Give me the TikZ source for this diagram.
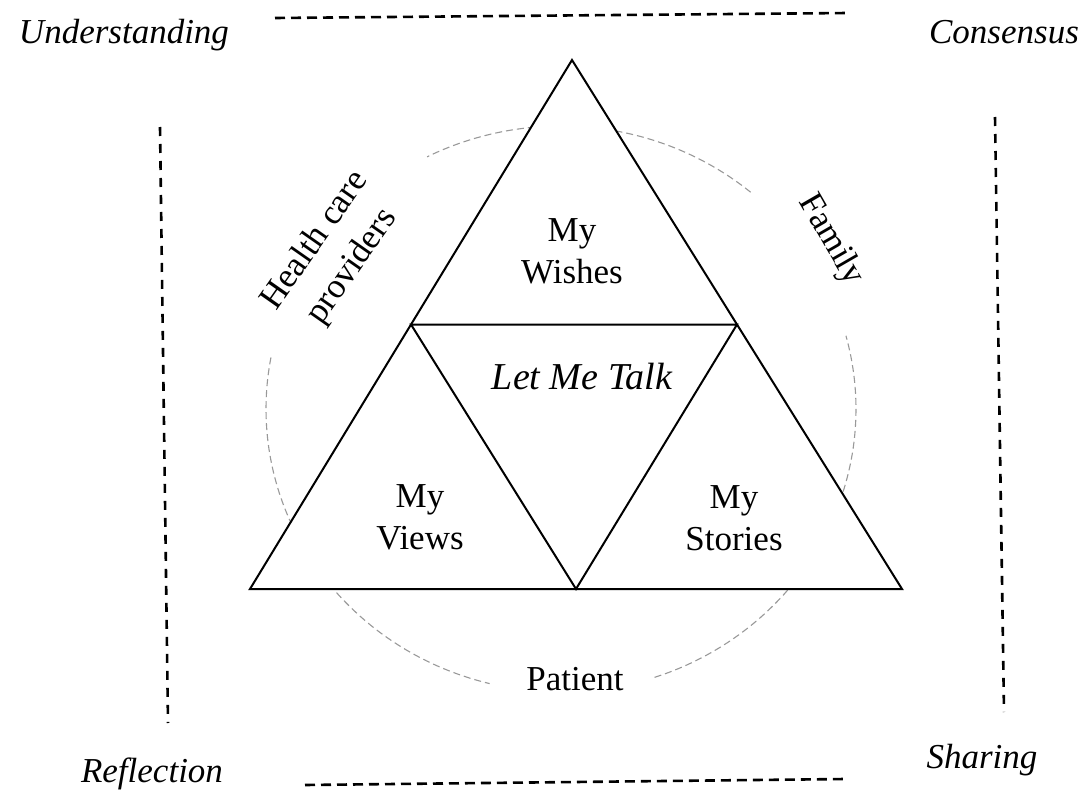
\documentclass[tikz,border=0pt]{standalone}
\usepackage{fontspec}
\setmainfont{Liberation Serif}
\usetikzlibrary{calc}
\begin{document}
\begin{tikzpicture}[x=1pt,y=-1pt,
  txt/.style={font=\fontsize{35}{42}\selectfont, align=center, inner sep=0pt},
  corner/.style={font=\fontsize{35}{38}\selectfont\itshape, inner sep=0pt, anchor=base},
  frame/.style={line width=2.6pt, dash pattern=on 10pt off 6pt},
  vframe/.style={line width=2.6pt, dash pattern=on 9pt off 8pt},
  ring/.style={gray!80, line width=1.1pt, dash pattern=on 7pt off 4pt},
  edge/.style={line width=2pt, line join=miter}]
\useasboundingbox (0,0) rectangle (1085,792);
% corner labels
\node[corner] (und) at (124,44) {Understanding};
\node[corner] (con) at (1004,44) {Consensus};
\node[corner] (ref) at (152,782) {Reflection};
\node[corner] (sha) at (982,768) {Sharing};
% dashed frame lines
\coordinate (t1) at (275,18); \coordinate (t2) at (848,13);
\coordinate (b1) at (305,785); \coordinate (b2) at (845,779);
\coordinate (l1) at (160,127); \coordinate (l2) at (168,723);
\coordinate (r1) at (995,117); \coordinate (r2) at (1004,712);
\draw[frame] (t1) -- (t2);
\draw[frame] (b1) -- (b2);
\draw[vframe] (l1) -- (l2);
\draw[vframe] (r1) -- (r2);
% dashed ring (ellipse pieces)
\draw[ring] plot[domain=50:117, samples=60] ({561+295*cos(\x)}, {409-283*sin(\x)});
\draw[ring] plot[domain=169.5:256, samples=80] ({561+295*cos(\x)}, {409-283*sin(\x)});
\draw[ring] plot[domain=288.5:375, samples=80] ({561+295*cos(\x)}, {409-283*sin(\x)});
% triangle
\coordinate (A) at (572,60);
\coordinate (L) at (250,589);
\coordinate (R) at (902,589);
\coordinate (ML) at ($(A)!0.5!(L)$);
\coordinate (MR) at ($(A)!0.5!(R)$);
\coordinate (MB) at ($(L)!0.5!(R)$);
\fill[white] (A) -- (L) -- (R) -- cycle;
\draw[edge] (A) -- (L) -- (R) -- cycle;
\draw[edge] (ML) -- (MR) -- (MB) -- cycle;
% texts
\node[txt] (wishes) at (572,251) {My\\Wishes};
\node[txt, font=\fontsize{38}{42}\selectfont\itshape] (talk) at (582,377) {Let Me Talk};
\node[txt] (views) at (420,517) {My\\Views};
\node[txt] (stories) at (734,518) {My\\Stories};
\node[txt] (patient) at (575,679) {Patient};
\node[txt, font=\fontsize{35}{45}\selectfont, rotate=55] (hcp) at (334,254) {Health care\\providers};
\node[txt, rotate=-60] (family) at (831,240) {Family};
\end{tikzpicture}
\end{document}
